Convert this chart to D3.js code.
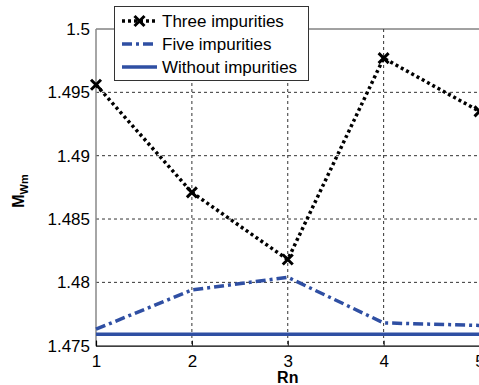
<!DOCTYPE html>
<html>
<head>
<meta charset="utf-8">
<script src="https://cdn.jsdelivr.net/npm/d3@7"></script>
<style>
body{margin:0;background:#fff;}
text{font-family:"Liberation Sans",Arial,sans-serif;}
</style>
</head>
<body>
<div id="chart"></div>
<script>
// data
var rn=[1,2,3,4,5];
var threeImp=[1.4956,1.4871,1.4818,1.4977,1.4935];
var fiveImp=[1.4763,1.4794,1.4804,1.4768,1.4766];
var withoutImp=[1.4759,1.4759,1.4759,1.4759,1.4759];
var yTicks=[1.475,1.48,1.485,1.49,1.495,1.5];
var xTicks=[1,2,3,4,5];
var seriesNames=["Three impurities","Five impurities","Without impurities"];

var W=479,H=385;
var plotL=96,plotT=29,plotR=479.5,plotB=345.7;
var blue="#2f4fa3";

var svg=d3.select("#chart").append("svg")
	.attr("width",W)
	.attr("height",H);

var x=d3.scaleLinear().domain([1,5]).range([plotL,plotR]);
var y=d3.scaleLinear().domain([1.475,1.5]).range([plotB,plotT]);

// grid
svg.append("g").selectAll("line").data(xTicks.slice(1,4)).enter().append("line")
	.attr("x1",function(d){return x(d);}).attr("x2",function(d){return x(d);})
	.attr("y1",plotT).attr("y2",plotB)
	.attr("stroke","#333").attr("stroke-width",1).attr("stroke-dasharray","3,3");
svg.append("g").selectAll("line").data(yTicks.slice(1,5)).enter().append("line")
	.attr("x1",plotL).attr("x2",W)
	.attr("y1",function(d){return y(d);}).attr("y2",function(d){return y(d);})
	.attr("stroke","#333").attr("stroke-width",1).attr("stroke-dasharray","3,3");

// frame
svg.append("line").attr("x1",plotL).attr("x2",W).attr("y1",plotT).attr("y2",plotT)
	.attr("stroke","#444").attr("stroke-width",1);
svg.append("line").attr("x1",plotL).attr("x2",plotL).attr("y1",plotT).attr("y2",plotB)
	.attr("stroke","#888").attr("stroke-width",1.5);

// axes
var xAxis=svg.append("g").attr("transform","translate(0,"+plotB+")")
	.call(d3.axisBottom(x).tickValues(xTicks).tickSize(-5).tickPadding(9).tickFormat(d3.format("d")));
xAxis.select(".domain").attr("stroke","#000").attr("stroke-width",1.2);
xAxis.selectAll("text").attr("font-size",17).attr("fill","#000");

var yAxis=svg.append("g").attr("transform","translate("+plotL+",0)")
	.call(d3.axisLeft(y).tickValues(yTicks).tickSize(0).tickPadding(6).tickFormat(function(d){return String(+d.toFixed(3));}));
yAxis.select(".domain").remove();
yAxis.selectAll("text").attr("font-size",17).attr("fill","#000");

// lines
var line=d3.line().x(function(d,i){return x(rn[i]);}).y(function(d){return y(d);});

svg.append("path").datum(withoutImp).attr("d",line)
	.attr("fill","none").attr("stroke",blue).attr("stroke-width",3.5);
svg.append("path").datum(fiveImp).attr("d",line)
	.attr("fill","none").attr("stroke",blue).attr("stroke-width",3.5)
	.attr("stroke-dasharray","10,4,3,4");
svg.append("path").datum(threeImp).attr("d",line)
	.attr("fill","none").attr("stroke","#000").attr("stroke-width",3.5)
	.attr("stroke-dasharray","3,3");

// markers
svg.append("g").selectAll("path").data(threeImp).enter().append("path")
	.attr("transform",function(d,i){return "translate("+x(rn[i])+","+y(d)+")";})
	.attr("d","M-5,-5L5,5M-5,5L5,-5")
	.attr("stroke","#000").attr("stroke-width",3);

// axis labels
svg.append("text").attr("x",x(3)).attr("y",383).attr("text-anchor","middle")
	.attr("font-size",16).attr("font-weight","bold").text("Rn");
var yl=svg.append("text").attr("transform","translate(24,191) rotate(-90)")
	.attr("text-anchor","middle").attr("font-size",16).attr("font-weight","bold");
yl.append("tspan").text("M");
yl.append("tspan").attr("font-size",11).attr("dy",4).text("Wm");

// legend
var lg=svg.append("g");
lg.append("rect").attr("x",114.5).attr("y",6.5).attr("width",194).attr("height",74)
	.attr("fill","#fff").attr("stroke","#333").attr("stroke-width",1);
var ly=[21,44,67];
var styles=[{c:"#000",d:"3,3"},{c:blue,d:"10,4,3,4"},{c:blue,d:null}];
seriesNames.forEach(function(name,i){
	var l=lg.append("line").attr("x1",122).attr("x2",157).attr("y1",ly[i]).attr("y2",ly[i])
		.attr("stroke",styles[i].c).attr("stroke-width",3.5);
	if(styles[i].d) l.attr("stroke-dasharray",styles[i].d);
	lg.append("text").attr("x",162).attr("y",ly[i]+6).attr("font-size",17).text(name);
});
lg.append("path").attr("transform","translate(139.5,21)")
	.attr("d","M-5,-5L5,5M-5,5L5,-5").attr("stroke","#000").attr("stroke-width",3);
</script>
</body>
</html>
